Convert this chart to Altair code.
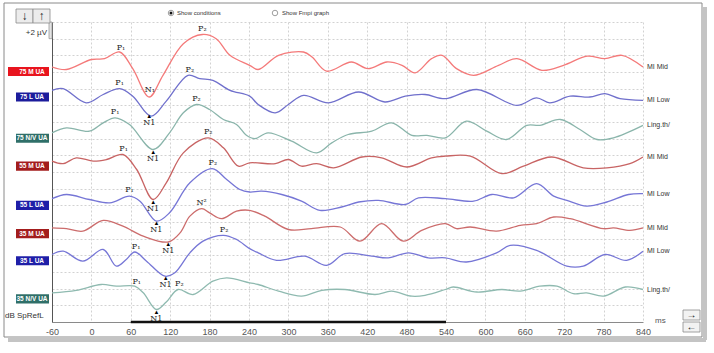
import altair as alt
import numpy as np
import pandas as pd

# ---------------- data ----------------
trace_names = ["75 M UA", "75 L UA", "75 N/V UA", "55 M UA", "55 L UA", "35 M UA", "35 L UA", "35 N/V UA"]
stimuli = ["MI Mid", "MI Low", "Ling.th/", "MI Mid", "MI Low", "MI Mid", "MI Low", "Ling.th/"]
line_colors = ["#f47a7a", "#7070cc", "#8ab5ab", "#c86464", "#7676d6", "#cc6c6c", "#7676d6", "#8fbab0"]
box_colors = ["#e8141e", "#1c1c9c", "#2f6f69", "#a31d1d", "#1f1fa8", "#a31d1d", "#1f1fa8", "#2f6f69"]
label_uv = [30.06, 27.0, 22.05, 18.7, 14.0, 10.6, 7.35, 2.77]

t1_ms = [-60, -38, 0, 20, 43, 63, 88, 109, 140, 169, 190, 211, 241, 254, 285, 323, 336, 358, 396, 421,
         450, 473, 493, 518, 534, 556, 582, 620, 648, 686, 719, 755, 782, 808, 840]
t1_uv = [30.6, 30.3, 31.5, 31.6, 32.4, 30.4, 27.0, 29.6, 33.4, 34.5, 34.0, 32.0, 30.8, 30.3, 32.0, 32.4, 31.8, 30.1, 31.2, 30.4,
         31.2, 30.8, 29.9, 31.6, 32.0, 30.4, 29.6, 30.8, 31.6, 30.2, 30.8, 31.9, 31.6, 32.0, 30.6]

t2_ms = [-60, -43, -8, 18, 43, 63, 91, 114, 147, 165, 185, 211, 241, 254, 280, 300, 323, 361, 407, 447,
         478, 508, 539, 587, 648, 678, 698, 729, 759, 782, 805, 840]
t2_uv = [27.8, 28.0, 26.3, 27.3, 28.0, 27.1, 24.7, 26.5, 29.6, 29.2, 29.0, 27.8, 27.1, 26.1, 25.1, 26.1, 27.2, 26.3, 27.6, 26.4,
         27.1, 27.3, 26.8, 27.9, 26.0, 26.9, 26.3, 27.1, 27.0, 27.4, 26.8, 26.6]

t3_ms = [-60, -38, -3, 18, 36, 58, 94, 119, 140, 160, 180, 201, 221, 236, 249, 269, 305, 343, 366, 391,
         427, 457, 488, 511, 539, 571, 602, 632, 663, 683, 714, 744, 770, 795, 840]
t3_uv = [22.7, 23.3, 22.9, 23.9, 24.5, 23.7, 20.7, 22.7, 25.1, 26.1, 25.5, 24.3, 23.7, 22.4, 22.0, 22.7, 21.7, 20.3, 21.5, 22.5,
         22.9, 23.9, 22.4, 22.4, 22.1, 24.1, 22.9, 21.9, 23.6, 23.6, 24.3, 23.1, 21.9, 22.1, 23.6]

t4_ms = [-60, -43, -23, 3, 23, 48, 69, 94, 114, 140, 178, 201, 224, 241, 280, 300, 320, 343, 369, 412,
         442, 480, 518, 539, 577, 625, 658, 701, 749, 785, 820, 840]
t4_uv = [19.3, 19.0, 19.7, 19.3, 19.5, 20.1, 18.3, 14.7, 16.7, 20.3, 22.1, 20.9, 18.7, 19.1, 19.0, 19.5, 18.7, 19.0, 18.5, 19.8,
         19.7, 18.6, 19.7, 19.9, 19.9, 17.8, 18.7, 19.8, 18.5, 18.5, 19.0, 19.8]

t5_ms = [-60, -38, -3, 28, 58, 74, 99, 119, 150, 184, 206, 226, 241, 259, 290, 320, 348, 381, 407, 437,
         478, 498, 539, 582, 610, 643, 678, 704, 724, 754, 785, 818, 840]
t5_uv = [14.8, 15.3, 14.7, 14.3, 15.1, 14.5, 12.1, 13.1, 16.7, 18.4, 17.1, 15.9, 15.6, 15.7, 15.3, 14.5, 13.4, 13.8, 14.4, 14.6,
         14.1, 14.9, 14.8, 14.5, 15.3, 14.9, 16.6, 15.1, 14.6, 13.9, 14.4, 15.3, 15.4]

t6_ms = [-60, -38, -13, 18, 48, 79, 117, 135, 150, 168, 180, 198, 221, 241, 264, 300, 335, 379, 409, 442,
         475, 503, 539, 556, 577, 617, 653, 678, 704, 729, 780, 795, 820, 840]
t6_uv = [11.3, 11.2, 10.9, 12.2, 11.5, 10.3, 9.6, 10.7, 12.7, 13.6, 13.1, 12.4, 13.3, 13.4, 12.7, 11.1, 11.2, 11.4, 9.7, 11.8,
         9.7, 11.0, 11.8, 11.2, 11.4, 10.9, 11.6, 11.8, 12.6, 12.4, 11.2, 11.3, 11.0, 11.3]

t7_ms = [-60, -43, -13, 18, 38, 53, 66, 84, 112, 127, 150, 170, 201, 221, 241, 254, 282, 325, 358, 386,
         427, 452, 483, 513, 539, 571, 617, 638, 678, 724, 749, 782, 815, 840]
t7_uv = [8.1, 8.5, 7.3, 8.7, 6.7, 7.5, 8.4, 7.3, 5.5, 5.9, 8.3, 9.7, 10.4, 9.9, 8.8, 8.3, 7.4, 7.9, 6.8, 8.2,
         7.9, 7.7, 8.3, 7.7, 7.7, 7.2, 8.3, 9.2, 8.6, 6.7, 6.7, 8.1, 7.4, 8.5]

t8_ms = [-60, -23, 15, 38, 66, 79, 99, 114, 132, 155, 185, 206, 241, 254, 285, 320, 351, 386, 432, 457,
         488, 508, 539, 551, 587, 625, 653, 683, 709, 734, 754, 780, 813, 840]
t8_uv = [3.5, 3.8, 4.5, 4.3, 4.3, 3.5, 1.5, 2.4, 3.9, 3.3, 4.9, 5.3, 4.7, 4.5, 3.7, 3.1, 3.8, 3.9, 3.3, 3.7,
         3.1, 3.2, 3.9, 4.2, 3.6, 3.9, 3.7, 4.3, 4.3, 3.4, 3.5, 3.1, 4.2, 3.9]

# peak annotations: trace index, latency (ms), label, side
ann_trace = [0, 0, 0, 1, 1, 1, 2, 2, 2, 3, 3, 3, 4, 4, 4, 5, 5, 6, 6, 6, 7, 7, 7]
ann_ms = [45, 89, 169, 43, 88, 150, 36, 94, 160, 49, 94, 178, 58, 99, 185, 117, 168, 68, 113, 202, 69, 99, 134]
ann_text = ["P₁", "N₁", "P₂", "P₁", "N1", "P₂", "P₁", "N1", "P₂", "P₁", "N1", "P₂", "P₁", "N1", "P₂",
            "N1", "N²", "P₁", "N1", "P₂", "P₁", "N1", "P₂"]
ann_side = ["up", "up", "up", "up", "down", "up", "up", "down", "up", "up", "down", "up", "up", "down", "up",
            "down", "up", "up", "down", "up", "up", "down", "up"]

x_ticks = list(range(-60, 841, 60))
analysis_window = [60, 540]

# ---------------- tables ----------------
all_ms = [t1_ms, t2_ms, t3_ms, t4_ms, t5_ms, t6_ms, t7_ms, t8_ms]
all_uv = [t1_uv, t2_uv, t3_uv, t4_uv, t5_uv, t6_uv, t7_uv, t8_uv]

lines_df = pd.concat(
    [pd.DataFrame({"trace": trace_names[i], "ms": all_ms[i], "uv": all_uv[i]}) for i in range(8)],
    ignore_index=True,
)

ann_uv = [float(np.interp(m, all_ms[t], all_uv[t])) for t, m in zip(ann_trace, ann_ms)]
ann_df = pd.DataFrame({"ms": ann_ms, "uv": ann_uv, "text": ann_text, "side": ann_side})

labels_df = pd.DataFrame({
    "idx": list(range(8)),
    "name": trace_names,
    "uv": label_uv,
    "lo": [v - 0.55 for v in label_uv],
    "hi": [v + 0.55 for v in label_uv],
    "box": box_colors,
})
right_df = pd.DataFrame({"stim": stimuli, "uv": [u[-1] for u in all_uv]})
win_df = pd.DataFrame({"ms": [analysis_window[0]], "b": [analysis_window[1]], "uv": [0]})
one = pd.DataFrame({"k": [0]})

# ---------------- scales ----------------
xs = alt.Scale(domain=[-60, 840], nice=False, zero=False)
ys = alt.Scale(domain=[0, 36], nice=False, zero=False)
font = "Liberation Sans"

x_axis = alt.Axis(values=x_ticks, title=None, ticks=False, labelFontSize=9, labelColor="#555",
                  labelFont=font, labelPadding=5, domainColor="#8a8a8a", gridColor="#d2d2d2",
                  gridDash=[2, 2], labelFlush=False, labelExpr="'' + datum.value")
y_axis = alt.Axis(values=list(range(0, 37, 2)), title=None, ticks=False, labels=False,
                  domainColor="#555", gridColor="#d2d2d2", gridDash=[2, 2])

X = lambda f="ms": alt.X(f"{f}:Q", scale=xs, axis=x_axis)
Y = lambda f="uv": alt.Y(f"{f}:Q", scale=ys, axis=y_axis)

traces = alt.Chart(lines_df).mark_line(strokeWidth=1.3, interpolate="catmull-rom").encode(
    x=X(), y=Y(),
    color=alt.Color("trace:N", scale=alt.Scale(domain=trace_names, range=line_colors), legend=None),
    detail="trace:N",
    order="ms:Q",
)

window = alt.Chart(win_df).mark_rule(color="#111", strokeWidth=2.5).encode(
    x=X(), x2="b:Q", y=Y()
)

ann_up = alt.Chart(ann_df).transform_filter("datum.side == 'up'").mark_text(
    font="DejaVu Serif", fontSize=8, color="#222", baseline="bottom", dy=-2
).encode(x=X(), y=Y(), text="text:N")

ann_dn = alt.Chart(ann_df).transform_filter("datum.side == 'down'").mark_text(
    font="DejaVu Serif", fontSize=8, color="#222", baseline="top", dy=5
).encode(x=X(), y=Y(), text="text:N")

ann_tri = alt.Chart(ann_df).transform_filter("datum.side == 'down'").mark_text(
    fontSize=6, color="#000", baseline="middle", dy=2
).encode(x=X(), y=Y(), text=alt.value("▲"))

boxes = alt.Chart(labels_df).transform_filter("datum.idx > 0").mark_rect().encode(
    x=alt.value(-36), x2=alt.value(-3),
    y=Y("lo"), y2="hi:Q",
    color=alt.Color("box:N", scale=None),
)
box0 = alt.Chart(labels_df).transform_filter("datum.idx == 0").mark_rect().encode(
    x=alt.value(-44), x2=alt.value(-3),
    y=Y("lo"), y2="hi:Q",
    color=alt.Color("box:N", scale=None),
)
box_text = alt.Chart(labels_df).mark_text(
    font=font, fontSize=6.5, fontWeight="bold", color="white", baseline="middle"
).encode(x=alt.value(-20), y=Y(), text="name:N")

right_text = alt.Chart(right_df).mark_text(
    font=font, fontSize=7, color="#333", align="left", baseline="middle"
).encode(x=alt.value(595), y=Y(), text="stim:N")

# scale bar (+2 µV)
bar_df = pd.DataFrame({"lo": [34], "hi": [36]})
scale_bar = alt.Chart(bar_df).mark_rect(fill="#e4e4e4", stroke="#9a9a9a", strokeWidth=0.8).encode(
    x=alt.value(-3), x2=alt.value(0), y=Y("lo"), y2="hi:Q"
)

def txt(x, y, s, **kw):
    return alt.Chart(one).mark_text(text=s, **kw).encode(x=alt.value(x), y=alt.value(y))

def box(x, x2, y, y2, **kw):
    return alt.Chart(one).mark_rect(**kw).encode(
        x=alt.value(x), x2=alt.value(x2), y=alt.value(y), y2=alt.value(y2))

frame = box(-48, 650, -19, 315, fillOpacity=0, stroke="#8a8a8a", strokeWidth=1)
shadow_b = alt.Chart(one).mark_rule(color="#c4c4c4", strokeWidth=4).encode(
    x=alt.value(-44), x2=alt.value(654), y=alt.value(318))
shadow_r = alt.Chart(one).mark_rule(color="#c4c4c4", strokeWidth=4).encode(
    x=alt.value(653), y=alt.value(-15), y2=alt.value(318))

btn1 = box(-36, -19, -13, 1, fill="#ececec", stroke="#8a8a8a", strokeWidth=0.8)
btn2 = box(-19, -2, -13, 1, fill="#ececec", stroke="#8a8a8a", strokeWidth=0.8)
btn1t = txt(-27.5, -6, "↓", fontSize=12, fontWeight="bold", color="#222", baseline="middle")
btn2t = txt(-10.5, -6, "↑", fontSize=12, fontWeight="bold", color="#222", baseline="middle")
uv_t = txt(-5, 11, "+2 µV", fontSize=8, color="#333", align="right", baseline="middle", font=font)
db_t = txt(-47, 294, "dB SpRefL", fontSize=8, color="#333", align="left", baseline="middle", font=font)
ms_t = txt(603, 299, "ms", fontSize=8, color="#555", align="left", baseline="middle", font=font)

rb1 = alt.Chart(one).mark_point(shape="circle", size=30, filled=False, color="#555", strokeWidth=0.8).encode(
    x=alt.value(119), y=alt.value(-9))
rb1d = alt.Chart(one).mark_point(shape="circle", size=9, filled=True, color="#111", opacity=1).encode(
    x=alt.value(119), y=alt.value(-9))
rb2 = alt.Chart(one).mark_point(shape="circle", size=30, filled=False, color="#555", strokeWidth=0.8).encode(
    x=alt.value(223), y=alt.value(-9))
rb1t = txt(125, -9, "Show conditions", fontSize=6, color="#333", align="left", baseline="middle", font=font)
rb2t = txt(230, -9, "Show Fmpi graph", fontSize=6, color="#333", align="left", baseline="middle", font=font)

ab1 = box(631, 648, 288, 298, fill="#f2f2f2", stroke="#8a8a8a", strokeWidth=0.8)
ab2 = box(631, 648, 300, 310, fill="#f2f2f2", stroke="#8a8a8a", strokeWidth=0.8)
ab1t = txt(639.5, 293, "→", fontSize=10, color="#111", baseline="middle")
ab2t = txt(639.5, 305, "←", fontSize=10, color="#111", baseline="middle")

chart = alt.layer(
    traces, window, ann_up, ann_dn, ann_tri, box0, boxes, box_text, right_text, scale_bar,
    frame, shadow_b, shadow_r, btn1, btn2, btn1t, btn2t, uv_t, db_t, ms_t,
    rb1, rb1d, rb2, rb1t, rb2t, ab1, ab2, ab1t, ab2t,
).properties(
    width=591, height=300, autosize="none",
    padding={"left": 52, "top": 22, "right": 71, "bottom": 31},
    background="white",
).configure_view(stroke=None)

chart.save("out.html", embed_options={"renderer": "svg", "actions": False})
